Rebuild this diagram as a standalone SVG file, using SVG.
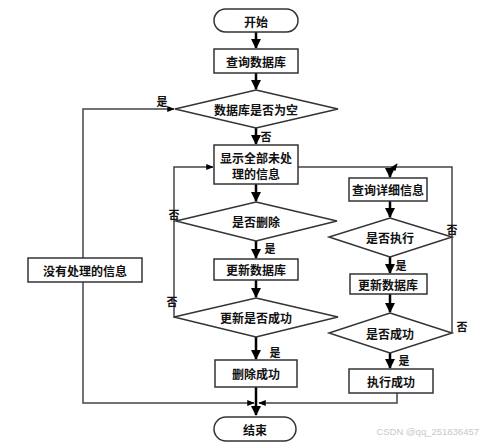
<svg xmlns="http://www.w3.org/2000/svg" width="482" height="442" viewBox="0 0 482 442">
<style>
.n{fill:#fff;stroke:#333;stroke-width:1.5}
.t{font-family:"Noto Sans CJK SC","Noto Sans",sans-serif;font-size:12px;font-weight:bold;fill:#111;text-anchor:middle;dominant-baseline:central}
.lb{font-family:"Noto Sans CJK SC","Noto Sans",sans-serif;font-size:11px;font-weight:bold;fill:#111;text-anchor:middle;dominant-baseline:central}
.m{stroke:#000;stroke-width:2.5;fill:none}
.s{stroke:#444;stroke-width:1.5;fill:none}
</style>
<defs>
<marker id="ab" viewBox="0 0 10 10" refX="9" refY="5" markerWidth="4" markerHeight="4" orient="auto"><path d="M0,0L10,5L0,10z" fill="#000"/></marker>
<marker id="as" viewBox="0 0 10 10" refX="9" refY="5" markerWidth="5" markerHeight="5" orient="auto"><path d="M0,1L10,5L0,9z" fill="#000"/></marker>
</defs>
<rect width="482" height="442" fill="#fff"/>
<g id="connectors">
<line class="m" x1="256" y1="32" x2="256" y2="48" marker-end="url(#ab)"/>
<line class="m" x1="256" y1="73" x2="256" y2="89" marker-end="url(#ab)"/>
<line class="m" x1="256" y1="128" x2="256" y2="144" marker-end="url(#ab)"/>
<line class="m" x1="256" y1="184" x2="256" y2="201" marker-end="url(#ab)"/>
<line class="m" x1="256" y1="241" x2="256" y2="258" marker-end="url(#ab)"/>
<line class="m" x1="256" y1="280" x2="256" y2="297" marker-end="url(#ab)"/>
<line class="m" x1="256" y1="337" x2="256" y2="359" marker-end="url(#ab)"/>
<line class="m" x1="256" y1="387" x2="256" y2="415" marker-end="url(#ab)"/>
<polyline class="s" points="83,258 83,109 174,109" marker-end="url(#as)"/>
<polyline class="s" points="83,282 83,403 254,403" marker-end="url(#as)"/>
<polyline class="s" points="397,393 397,403 259,403" marker-end="url(#as)"/>
<polyline class="s" points="176,221 174,221 174,167 213,167" marker-end="url(#as)"/>
<line class="s" x1="174" y1="221" x2="174" y2="318"/>
<line class="s" x1="174" y1="317" x2="176" y2="317"/>
<polyline class="s" points="298,167 452,167 452,333"/>
<line class="s" x1="394" y1="168" x2="397" y2="164" marker-end="url(#as)"/>
<line class="m" x1="390" y1="168" x2="390" y2="177" marker-end="url(#ab)"/>
<line class="m" x1="390" y1="201" x2="390" y2="217" marker-end="url(#ab)"/>
<line class="m" x1="390" y1="257" x2="390" y2="273" marker-end="url(#ab)"/>
<line class="m" x1="390" y1="294" x2="390" y2="312" marker-end="url(#ab)"/>
<line class="m" x1="390" y1="353" x2="390" y2="368" marker-end="url(#ab)"/>
<text class="lb" x="162" y="101">是</text>
<text class="lb" x="266" y="136">否</text>
<text class="lb" x="174" y="214">否</text>
<text class="lb" x="270" y="248">是</text>
<text class="lb" x="172" y="301">否</text>
<text class="lb" x="275" y="352">是</text>
<text class="lb" x="452" y="229">否</text>
<text class="lb" x="401" y="265">是</text>
<text class="lb" x="462" y="326">否</text>
<text class="lb" x="404" y="360">是</text>
</g>
<g id="start"><rect class="n" x="214" y="9" width="84" height="23" rx="11.5"/><text class="t" x="256" y="21">开始</text></g>
<g id="query"><rect class="n" x="214" y="49" width="84" height="24"/><text class="t" x="256" y="61">查询数据库</text></g>
<g id="isEmpty"><polygon class="n" points="256,90 338,109 256,128 175,109"/><text class="t" x="256" y="109">数据库是否为空</text></g>
<g id="noInfo"><rect class="n" x="28" y="258" width="114" height="24"/><text class="t" x="85" y="270">没有处理的信息</text></g>
<g id="showAll"><rect class="n" x="214" y="145" width="84" height="39"/><text class="t" x="256" y="157">显示全部未处</text><text class="t" x="256" y="173">理的信息</text></g>
<g id="isDelete"><polygon class="n" points="256,202 337,221 256,241 176,221"/><text class="t" x="256" y="221">是否删除</text></g>
<g id="updateDb1"><rect class="n" x="214" y="259" width="84" height="21"/><text class="t" x="256" y="269.5">更新数据库</text></g>
<g id="updateOk"><polygon class="n" points="256,298 338,317 256,337 174,317"/><text class="t" x="256" y="317">更新是否成功</text></g>
<g id="deleteOk"><rect class="n" x="215" y="360" width="82" height="27"/><text class="t" x="256" y="373.5">删除成功</text></g>
<g id="end"><rect class="n" x="214" y="417" width="82" height="24" rx="12"/><text class="t" x="255" y="429">结束</text></g>
<g id="queryDetail"><rect class="n" x="349" y="178" width="78" height="23"/><text class="t" x="388" y="189.5">查询详细信息</text></g>
<g id="isExec"><polygon class="n" points="390,218 452,237 390,257 329,237"/><text class="t" x="390" y="237">是否执行</text></g>
<g id="updateDb2"><rect class="n" x="350" y="274" width="77" height="20"/><text class="t" x="388" y="284">更新数据库</text></g>
<g id="isSuccess"><polygon class="n" points="390,313 452,333 390,353 329,333"/><text class="t" x="390" y="333">是否成功</text></g>
<g id="execOk"><rect class="n" x="349" y="369" width="84" height="24"/><text class="t" x="391" y="381">执行成功</text></g>
<text x="479" y="431" font-family="Liberation Sans,Arial,sans-serif" font-size="9.5" fill="#c8c8c8" text-anchor="end" dominant-baseline="central">CSDN @qq_251836457</text>
</svg>
